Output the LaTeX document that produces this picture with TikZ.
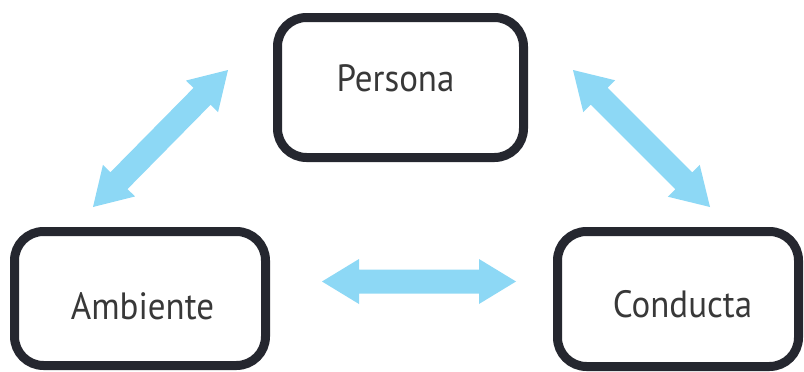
\documentclass[tikz,border=0pt]{standalone}
\usepackage{fontspec}
\setmainfont{PT Sans}
\usetikzlibrary{calc}
\definecolor{boxline}{HTML}{25272F}
\definecolor{txt}{HTML}{383838}
\definecolor{arr}{HTML}{8DD8F5}
\tikzset{
  box/.style={draw=boxline, line width=9pt, rounded corners=29pt, inner sep=0pt, fill=white},
  lbl/.style={text=txt, font=\fontsize{38}{40}\selectfont, inner sep=0pt, anchor=center},
  bigarrow/.style={fill=arr}
}
% double-headed block arrow between two named coordinates
\newcommand\dblarrow[2]{%
  \coordinate (#1-h) at ($(#1)!37pt!(#2)$);
  \coordinate (#2-h) at ($(#2)!37pt!(#1)$);
  \fill[bigarrow] (#1)
    -- ($(#1-h)!22.5pt!90:(#2)$) -- ($(#1-h)!12pt!90:(#2)$)
    -- ($(#2-h)!12pt!-90:(#1)$) -- ($(#2-h)!22.5pt!-90:(#1)$)
    -- (#2)
    -- ($(#2-h)!22.5pt!90:(#1)$) -- ($(#2-h)!12pt!90:(#1)$)
    -- ($(#1-h)!12pt!-90:(#2)$) -- ($(#1-h)!22.5pt!-90:(#2)$)
    -- cycle;
}
\begin{document}
\begin{tikzpicture}[x=1pt,y=-1pt]
\useasboundingbox (0,0) rectangle (804,372);
\node[box, minimum width=246pt, minimum height=140pt] (P) at (400.5,87.5) {};
\node[box, minimum width=251pt, minimum height=134pt] (A) at (140,298.5) {};
\node[box, minimum width=241pt, minimum height=135pt] (C) at (678,299) {};
\node[lbl] (tP) at (395.5,78) {\scalebox{0.92}[1]{Persona}};
\node[lbl] (tA) at (142.5,306) {\scalebox{0.92}[1]{Ambiente}};
\node[lbl] (tC) at (682.5,304) {\scalebox{0.92}[1]{Conducta}};
\coordinate (l1) at (228,70);
\coordinate (l2) at (93,207);
\coordinate (r1) at (573,70);
\coordinate (r2) at (710,207);
\coordinate (h1) at (322,281.5);
\coordinate (h2) at (516,281.5);
\dblarrow{l2}{l1}
\dblarrow{r1}{r2}
\dblarrow{h1}{h2}
\end{tikzpicture}
\end{document}
